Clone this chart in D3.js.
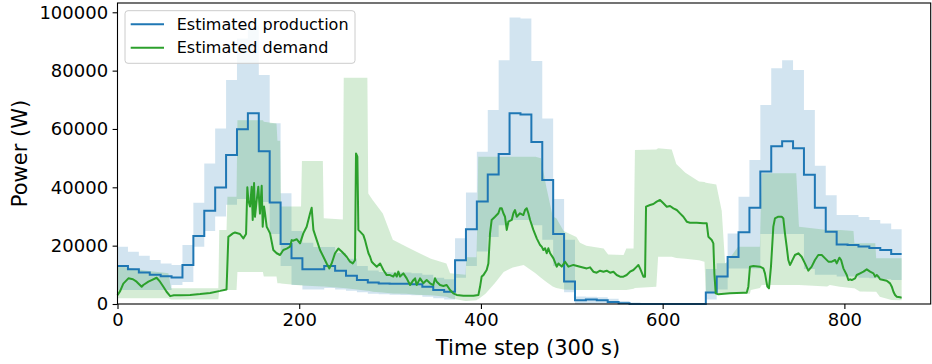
<!DOCTYPE html>
<html><head><meta charset="utf-8">
<script src="https://cdn.jsdelivr.net/npm/d3@7"></script>
<style>
html,body{margin:0;padding:0;background:#fff;overflow:hidden;}
text{font-family:"DejaVu Sans",sans-serif;}
</style>
</head><body>
<svg id="c" width="932" height="364"></svg>
<script>
// ---------------- data ----------------
const STEPS_PER_HOUR = 12;
const LAST_STEP = 863;
const xTicks = [0, 200, 400, 600, 800];
const yTicks = [0, 20000, 40000, 60000, 80000, 100000];
const seriesNames = ["Estimated production", "Estimated demand"];
const xLabel = "Time step (300 s)";
const yLabel = "Power (W)";

// hourly production forecast (W), one value per 12 time steps
const prodHourly = [13000,11900,10800,10000,9500,9100,13400,23300,32000,39900,
  51100,59900,65400,52400,34800,20600,15700,11900,11900,13000,
  11400,9700,8200,7400,7000,6900,6900,6800,5900,4800,
  4200,15000,25600,35100,44400,51400,65400,65000,55500,42500,
  24000,7700,1300,1500,1300,700,300,0,0,0,
  0,0,0,0,3900,9400,16100,24600,33000,45400,
  54100,55800,53400,44300,33000,24800,20400,20200,19700,19200,
  18500,17100];
const prodHighHourly = [19600,17900,16500,15100,13900,13400,20200,34700,48200,60200,
  76800,91000,95500,78500,62000,38000,25000,21000,19500,19500,
  17500,15500,13000,11500,11000,10800,10800,10500,10000,9000,
  8500,22500,38200,52200,66500,83600,98200,97900,83300,63600,
  36000,22000,2600,2500,2300,1800,1000,500,0,0,
  0,0,0,0,12000,14000,24200,36800,49400,68200,
  80800,83600,80200,66500,47400,37300,30500,30500,29800,28800,
  27600,25600];
const prodLowHourly = [4800,4800,4800,4800,4800,6500,7500,19600,25000,30000,
  34000,36000,36000,35000,24000,13000,6500,5000,5000,5500,
  5000,4500,4000,3500,3300,3200,3100,3000,2500,2000,
  1500,9000,13000,18000,23000,27000,28800,28800,27000,22000,
  13000,4000,0,0,0,0,0,0,0,0,
  0,0,0,0,1500,5000,12200,12200,12200,24000,
  24000,24000,24000,12000,10000,10000,9400,9400,9000,8800,
  8500,8200];

// demand uncertainty band: [time step, low, high]
const demandBand = [[0,2000,13000],[11,2000,12500],[30,2000,11500],[56,2000,10500],[59,1500,5400],
  [111,1600,5400],[112,4800,25400],[120,4800,25400],[121,4800,36800],[131,4800,36800],
  [132,11000,63000],[160,11000,63000],[161,9400,62500],[175,9400,61900],[176,7100,56000],
  [179,7100,56000],[180,7000,33400],[202,6300,33400],[203,6300,49000],[226,6000,49000],
  [227,6000,29400],[248,5500,29000],[249,5500,77600],[275,4500,77600],[276,4500,37900],
  [281,4200,35600],[292,3900,31000],[303,3600,22000],[318,3500,19650],[329,3200,17900],
  [345,3000,15500],[362,2500,13900],[366,2000,10500],[383,1000,10000],[384,1000,16000],
  [395,1300,16000],[396,1500,28000],[397,1600,50500],[405,3500,50500],[415,7000,50500],
  [425,11000,50500],[435,12500,50500],[447,13400,50500],[460,10500,50500],[466,9000,50000],
  [472,7500,40000],[479,6000,30000],[483,5500,29400],[491,5000,25000],[505,4800,23000],
  [509,4800,21000],[516,4800,20000],[535,4800,19000],[540,4800,17000],[557,4800,16800],
  [560,4800,19000],[568,5200,19000],[569.5,5500,52800],[593,5900,53000],[595,16200,53400],
  [610,16200,53000],[615,15800,48000],[625,15500,45000],[640,15000,42000],[646,14500,41800],
  [647.5,3800,41600],[659,3700,41000],[665,3700,32000],[668.7,3700,14000],[671,3700,14500],
  [683,3500,19650],[696,3500,19650],[697,4800,19650],[707,5500,19650],[709,6500,44800],
  [747,6500,44800],[750,6500,26500],[781,6000,25400],[784,6500,25400],[795,5900,25400],
  [810,5400,25000],[811,5400,20800],[817,4300,20800],[834,4200,20800],[835,4200,15650],
  [839,2500,15650],[852,1400,15650],[863,1300,15650]];

// demand estimate: [time step, W]
const demand = [[0,3000],[3,4500],[6.4,7000],[12,8800],[17,8500],[21,7650],[26.6,5900],[28.4,6500],
  [34,7650],[37.6,8200],[43,9000],[46.8,7650],[50.5,5900],[54,4200],[58,2700],[62,3000],[69,3000],
  [80,3100],[91,3400],[102,3800],[113,4500],[120,5000],[122,23000],[127,24200],[129.3,24500],
  [134.8,24000],[138.5,22500],[141.5,24000],[142.9,40000],[144,35600],[145.8,33400],[147.7,40200],
  [148.8,28800],[150.3,41500],[151.3,29900],[153.2,35600],[155,40200],[156.8,31000],[158.7,40500],
  [159.8,26500],[161.3,33400],[162.4,31000],[164.2,26500],[166,25400],[167.9,24200],[171.5,18500],
  [175.2,17400],[178.9,16800],[182.5,18500],[186.2,19000],[189.9,19650],[191.7,21900],[193.5,21700],
  [197.2,22200],[200.9,20800],[204.5,24200],[208.2,26500],[211.9,31000],[213.7,33000],[215.6,25400],
  [219.2,22000],[222.9,18500],[226.6,16200],[230.2,13900],[233.2,12200],[235.7,13900],[239.4,17400],
  [243.1,19000],[246.7,18000],[248.6,17400],[252.2,16200],[255.9,14500],[258.9,13900],[261.4,15000],
  [262.5,51600],[264,50500],[265.1,25400],[267,24800],[270.6,23600],[272.4,21900],[274.3,19600],
  [276.2,17400],[278,16200],[279.8,14500],[281.6,13900],[285.3,12800],[289,13900],[290.8,12800],
  [292.6,11650],[296.3,9900],[300,9900],[303.6,9400],[305.5,10500],[307.3,9400],[309.1,11100],
  [311,9400],[314.6,10500],[318.3,8800],[322,6500],[325.6,8200],[327.5,8800],[329.3,6500],[333,8800],
  [336.6,7100],[340.3,8200],[344,7100],[347.6,6500],[349.5,8800],[351.3,7650],[355,6500],[358.6,6200],
  [362.3,6500],[366,4800],[369.6,3650],[373.3,3100],[380.7,2850],[391.7,2850],[397.2,3100],[399,5900],
  [400.8,9400],[402.7,9900],[406.3,11650],[408.2,13900],[410,24200],[411.8,28800],[415.5,29900],
  [419.2,31100],[421,32800],[422.9,32800],[424.7,31100],[426.5,29900],[428.4,25400],[430.2,28200],
  [433.9,28800],[435.7,31100],[437.5,32200],[439.4,29900],[441.2,30500],[443,31100],[446.7,30500],
  [448.5,32200],[450.4,32800],[452.2,31100],[454.1,28800],[457.7,25400],[461.4,22500],[465.1,20200],
  [466.9,19650],[468.7,18500],[470.6,19100],[472.4,17400],[474.2,19100],[476.1,17400],[479.8,15650],
  [483.4,12800],[485.3,13900],[488.9,12800],[492.6,14500],[496.3,12800],[501.8,13400],[509.1,12800],
  [516.5,12200],[520.1,12570],[523.7,11080],[527.4,10740],[531.1,11420],[534.8,11080],[538.4,11420],
  [542.1,10740],[545.8,11080],[549.4,9940],[553.1,9370],[556.8,9370],[560.4,9940],[564.1,11080],
  [567.8,11650],[571.5,12800],[573.3,13370],[575.1,12220],[578.8,9370],[580.6,9370],[581.7,33360],
  [586.1,33930],[589.8,34280],[593.4,35080],[597.1,35650],[600.8,34510],[604.5,33360],[608.1,33590],
  [611.8,32790],[615.5,32220],[619.1,31080],[622.8,29930],[626.5,28220],[630.1,27880],[637.5,27880],
  [644.8,27650],[648.5,27650],[650.3,23080],[654,21940],[655.8,20790],[656.9,10510],[658.4,3650],
  [661.3,3310],[674.1,3650],[688.8,3880],[692.5,3880],[694.3,5940],[696.1,12800],[699.8,13020],
  [707.1,12800],[710.8,12220],[712.6,10510],[715.2,5940],[717,5370],[719.2,12800],[721.8,26510],
  [723.6,29360],[727.3,29930],[731,29930],[732.8,29360],[734.6,24220],[736.5,19650],[738.3,15080],
  [740.1,13370],[742,14510],[745.6,16800],[749.3,17370],[753,16220],[756.6,13940],[760.3,11420],
  [764,12800],[767.6,15080],[771.3,16800],[775.1,16800],[778.8,15650],[782.4,14510],[786.1,14510],
  [789.8,15080],[791.6,13940],[794.5,15880],[796.4,15080],[798.9,12220],[802.6,9940],[804.4,8220],
  [806.3,8450],[808.1,8220],[811.8,8800],[813.6,9940],[817.3,10510],[821,11080],[824.6,11880],
  [828.3,11080],[832,10510],[833.8,9370],[835.6,9940],[837.5,9370],[839.3,8450],[843,8220],
  [846.6,8000],[850.3,7080],[852.2,5940],[854,4220],[855.8,3080],[857.7,2510],[861.3,2280],[863,2170]];

// ---------------- chart ----------------
const BLUE = "#1f77b4", GREEN = "#2ca02c";
const svg = d3.select("#c");
const M = {left:117.5, top:3, bottom:304, right:930.7};
const x = d3.scaleLinear().domain([0, 895]).range([M.left, M.right]);
const y = d3.scaleLinear().domain([0, 103183]).range([M.bottom, M.top]);

function hourlyPoints(arr){
  const pts = arr.map((v,k)=>({t: Math.max(0, k*STEPS_PER_HOUR - 0.5), v}));
  pts.push({t: LAST_STEP, v: arr[arr.length-1]});
  return pts;
}
const prodPts = hourlyPoints(prodHourly);
const bandPts = prodLowHourly.map((lo,k)=>({t: Math.max(0, k*STEPS_PER_HOUR - 0.5), lo, hi: prodHighHourly[k]}));
bandPts.push({t: LAST_STEP, lo: prodLowHourly[prodLowHourly.length-1], hi: prodHighHourly[prodHighHourly.length-1]});

const g = svg.append("g");
g.append("path").datum(bandPts)
  .attr("d", d3.area().x(d=>x(d.t)).y0(d=>y(d.lo)).y1(d=>y(d.hi)).curve(d3.curveStepAfter))
  .attr("fill", BLUE).attr("fill-opacity", 0.2);
g.append("path").datum(demandBand)
  .attr("d", d3.area().x(d=>x(d[0])).y0(d=>y(d[1])).y1(d=>y(d[2])))
  .attr("fill", GREEN).attr("fill-opacity", 0.2);
g.append("path").datum(prodPts)
  .attr("d", d3.line().x(d=>x(d.t)).y(d=>y(d.v)).curve(d3.curveStepAfter))
  .attr("fill","none").attr("stroke", BLUE).attr("stroke-width", 2);
g.append("path").datum(demand)
  .attr("d", d3.line().x(d=>x(d[0])).y(d=>y(d[1])))
  .attr("fill","none").attr("stroke", GREEN).attr("stroke-width", 2).attr("stroke-linejoin","round");

const xAxis = d3.axisBottom(x).tickValues(xTicks).tickFormat(d3.format("d"))
  .tickSizeInner(4.9).tickSizeOuter(0).tickPadding(4.5);
const yAxis = d3.axisLeft(y).tickValues(yTicks).tickFormat(d3.format("d"))
  .tickSizeInner(4.9).tickSizeOuter(0).tickPadding(4.5);
const gx = svg.append("g").attr("transform", `translate(0,${M.bottom})`).call(xAxis);
const gy = svg.append("g").attr("transform", `translate(${M.left},0)`).call(yAxis);
[gx, gy].forEach(a=>{
  a.select(".domain").remove();
  a.selectAll(".tick line").attr("stroke","#000").attr("stroke-width",1.1);
  a.selectAll(".tick text").attr("fill","#000").style("font-size","18px").style("font-family","DejaVu Sans");
});

svg.append("rect").attr("x", M.left).attr("y", M.top)
  .attr("width", M.right-M.left).attr("height", M.bottom-M.top)
  .attr("fill","none").attr("stroke","#000").attr("stroke-width",1.1);

svg.append("text").attr("x", 528).attr("y", 355)
  .attr("text-anchor","middle").style("font-size","21px").text(xLabel);
svg.append("text").attr("transform", `translate(27,${(M.top+M.bottom)/2}) rotate(-90)`)
  .attr("text-anchor","middle").style("font-size","21px").text(yLabel);

const lg = svg.append("g");
lg.append("rect").attr("x",125).attr("y",10.7).attr("width",230).attr("height",52.6)
  .attr("rx",3).attr("fill","#fff").attr("fill-opacity",0.8).attr("stroke","#cccccc").attr("stroke-width",1);
[BLUE, GREEN].forEach((c,i)=>{
  const yy = 24.3 + i*23.4;
  lg.append("line").attr("x1",130.7).attr("x2",164).attr("y1",yy).attr("y2",yy)
    .attr("stroke",c).attr("stroke-width",2);
  lg.append("text").attr("x",176.7).attr("y",yy).attr("dy","0.36em")
    .style("font-size","16px").attr("fill","#000").text(seriesNames[i]);
});
</script>
</body></html>
